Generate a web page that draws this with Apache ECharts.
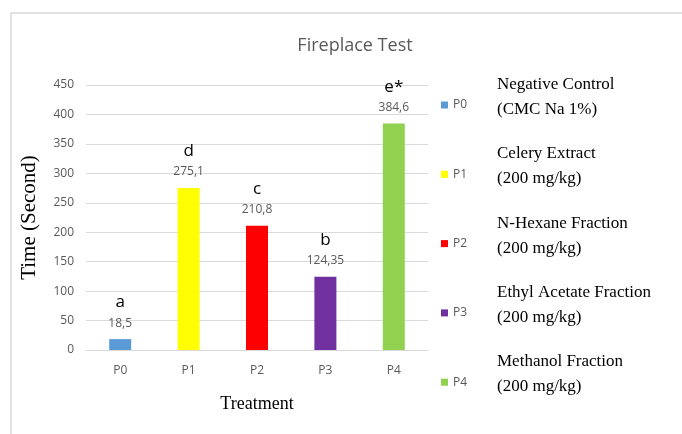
<!DOCTYPE html>
<html><head><meta charset="utf-8">
<script src="https://cdn.jsdelivr.net/npm/echarts@6/dist/echarts.min.js"></script>
<style>html,body{margin:0;padding:0;background:#fff}#c{width:682px;height:434px}</style>
</head><body><div id="c"></div>
<script>
const categories = ['P0','P1','P2','P3','P4'];
const values = [18.5, 275.1, 210.8, 124.35, 384.6];
const letters = ['a','d','c','b','e*'];
const colors = ['#5b9bd5','#ffff00','#ff0000','#7030a0','#92d050'];
const descLine1 = ['Negative Control','Celery Extract','N-Hexane Fraction','Ethyl Acetate Fraction','Methanol Fraction'];
const descLine2 = ['(CMC Na 1%)','(200 mg/kg)','(200 mg/kg)','(200 mg/kg)','(200 mg/kg)'];
const yTicks = [0,50,100,150,200,250,300,350,400,450];

const chart = echarts.init(document.getElementById('c'));
const fmt = v => String(v).replace('.', ',');
const series = categories.map((c, i) => ({
  name: c,
  type: 'bar',
  stack: 'all',
  barWidth: 22,
  itemStyle: { color: colors[i] },
  data: categories.map((_, j) => j === i ? values[i] : null),
  label: {
    show: true, position: 'top', distance: 9,
    formatter: () => '{l|' + letters[i] + '}\n{v|' + fmt(values[i]) + '}',
    rich: {
      l: { fontFamily: 'Open Sans', fontSize: 17, color: '#000', lineHeight: 27 },
      v: { fontFamily: 'Open Sans', fontSize: 12, color: '#595959', lineHeight: 14 }
    }
  }
}));
const graphics = [{
  type: 'rect', shape: { x: 11, y: 13, width: 700, height: 440 },
  style: { fill: 'none', stroke: '#d9d9d9', lineWidth: 1.5 }, silent: true, z: -1
}];
categories.forEach((c, i) => {
  graphics.push({
    type: 'text', left: 497, top: 72 + i * 69.3,
    style: { text: descLine1[i] + '\n' + descLine2[i], font: '17px "Liberation Serif"', fill: '#000', lineHeight: 25 }
  });
});
chart.setOption({
  animation: false,
  title: {
    text: 'Fireplace Test', left: 350, top: 32, textAlign: 'center',
    textStyle: { fontFamily: 'Open Sans', fontWeight: 'normal', fontSize: 18, color: '#595959' }
  },
  grid: { left: 86, right: 254, top: 85, bottom: 84 },
  legend: {
    orient: 'vertical', left: 436, top: 93,
    itemWidth: 7, itemHeight: 7, itemGap: 55.3, icon: 'rect',
    data: categories,
    textStyle: { fontFamily: 'Open Sans', fontSize: 12, color: '#595959', lineHeight: 14 }
  },
  xAxis: {
    type: 'category', data: categories,
    axisLine: { lineStyle: { color: '#d9d9d9' } }, axisTick: { show: false },
    axisLabel: { color: '#595959', fontFamily: 'Open Sans', fontSize: 12, margin: 15 },
    name: 'Treatment', nameLocation: 'middle', nameGap: 45,
    nameTextStyle: { fontFamily: 'Liberation Serif', fontSize: 18, color: '#000' }
  },
  yAxis: {
    type: 'value', min: yTicks[0], max: yTicks[yTicks.length - 1], interval: 50,
    axisLine: { show: false }, axisTick: { show: false },
    splitLine: { lineStyle: { color: '#d9d9d9' } },
    axisLabel: { color: '#595959', fontFamily: 'Open Sans', fontSize: 12, margin: 12 },
    name: 'Time (Second)', nameLocation: 'middle', nameGap: 46,
    nameTextStyle: { fontFamily: 'Liberation Serif', fontSize: 21, color: '#000' }
  },
  graphic: graphics,
  series: series
});
</script></body></html>
